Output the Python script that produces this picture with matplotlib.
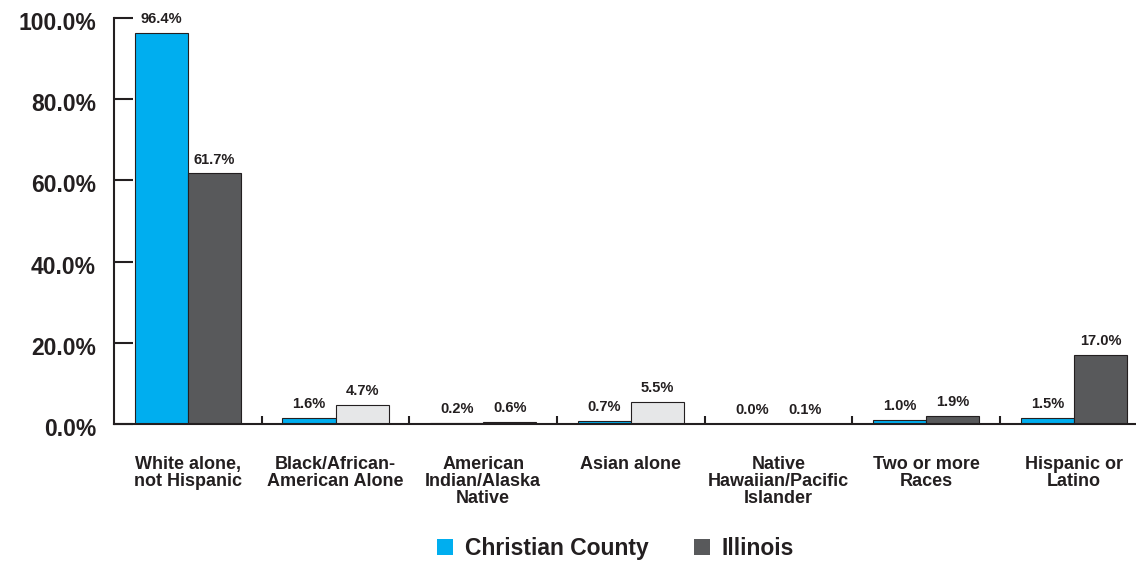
import numpy as np
import matplotlib
matplotlib.use('Agg')
import matplotlib.pyplot as plt
from matplotlib.patches import Patch
from matplotlib.transforms import ScaledTranslation

plt.rcParams['font.family'] = ['Liberation Sans', 'DejaVu Sans']

categories = ['White alone,\nnot Hispanic', 'Black/African-\nAmerican Alone',
              'American\nIndian/Alaska\nNative', 'Asian alone',
              'Native\nHawaiian/Pacific\nIslander', 'Two or more\nRaces',
              'Hispanic or\nLatino']
christian = [96.4, 1.6, 0.2, 0.7, 0.0, 1.0, 1.5]
illinois = [61.7, 4.7, 0.6, 5.5, 0.1, 1.9, 17.0]
y_ticks = [0, 20, 40, 60, 80, 100]

blue = '#00aeef'
dark = '#58595b'
light = '#e6e7e8'
ink = '#231f20'

# the small-share groups are shaded light for the state
illinois_colors = [dark, light, light, light, light, dark, dark]

fig = plt.figure(figsize=(11.36, 5.61), dpi=100)
ax = fig.add_axes([114 / 1136, 1 - 424 / 561, 1 - 114 / 1136, (424 - 18) / 561])

x = np.arange(len(categories))
w = 0.36
b1 = ax.bar(x - w / 2, christian, w, color=blue, edgecolor=ink, linewidth=0.8)
b2 = ax.bar(x + w / 2, illinois, w, color=illinois_colors, edgecolor=ink, linewidth=0.8)

for bars, vals in [(b1, christian), (b2, illinois)]:
    for bar, v in zip(bars, vals):
        ax.annotate(f'{v:.1f}%', (bar.get_x() + bar.get_width() / 2, v),
                    xytext=(0, 5), textcoords='offset points',
                    ha='center', va='bottom', fontsize=10.5, fontweight='bold',
                    color=ink)

ax.set_xlim(-0.5, 6.42)
ax.set_ylim(0, 100)

for s in ['top', 'right']:
    ax.spines[s].set_visible(False)
for s in ['left', 'bottom']:
    ax.spines[s].set_linewidth(1.5)
    ax.spines[s].set_color(ink)

ax.set_yticks(y_ticks)
ax.set_yticklabels([f'{t:.1f}%' for t in y_ticks], fontweight='bold')
ax.tick_params(axis='y', direction='in', length=14, width=1.5, color=ink,
               pad=13, labelsize=16.5, labelcolor=ink)
shift = ScaledTranslation(0, -3 / 100, fig.dpi_scale_trans)
for lbl in ax.get_yticklabels():
    lbl.set_transform(lbl.get_transform() + shift)

ax.set_xticks(x)
ax.set_xticklabels(categories, fontsize=13, fontweight='bold', color=ink,
                   linespacing=1.0)
ax.tick_params(axis='x', which='major', length=0, pad=23)
ax.set_xticks(x[:-1] + 0.5, minor=True)
ax.tick_params(axis='x', which='minor', direction='in', length=6, width=1.5,
               color=ink)

handles = [Patch(facecolor=blue, label='Christian County'),
           Patch(facecolor=dark, label='Illinois')]
fig.legend(handles=handles, loc='center', bbox_to_anchor=(0.542, 0.023),
           ncol=2, frameon=False, fontsize=16.5,
           prop={'weight': 'bold', 'size': 16.5}, handlelength=0.7,
           handleheight=0.7, handletextpad=0.5, columnspacing=2.0,
           labelcolor=ink)

fig.savefig('out.png', dpi=100)
